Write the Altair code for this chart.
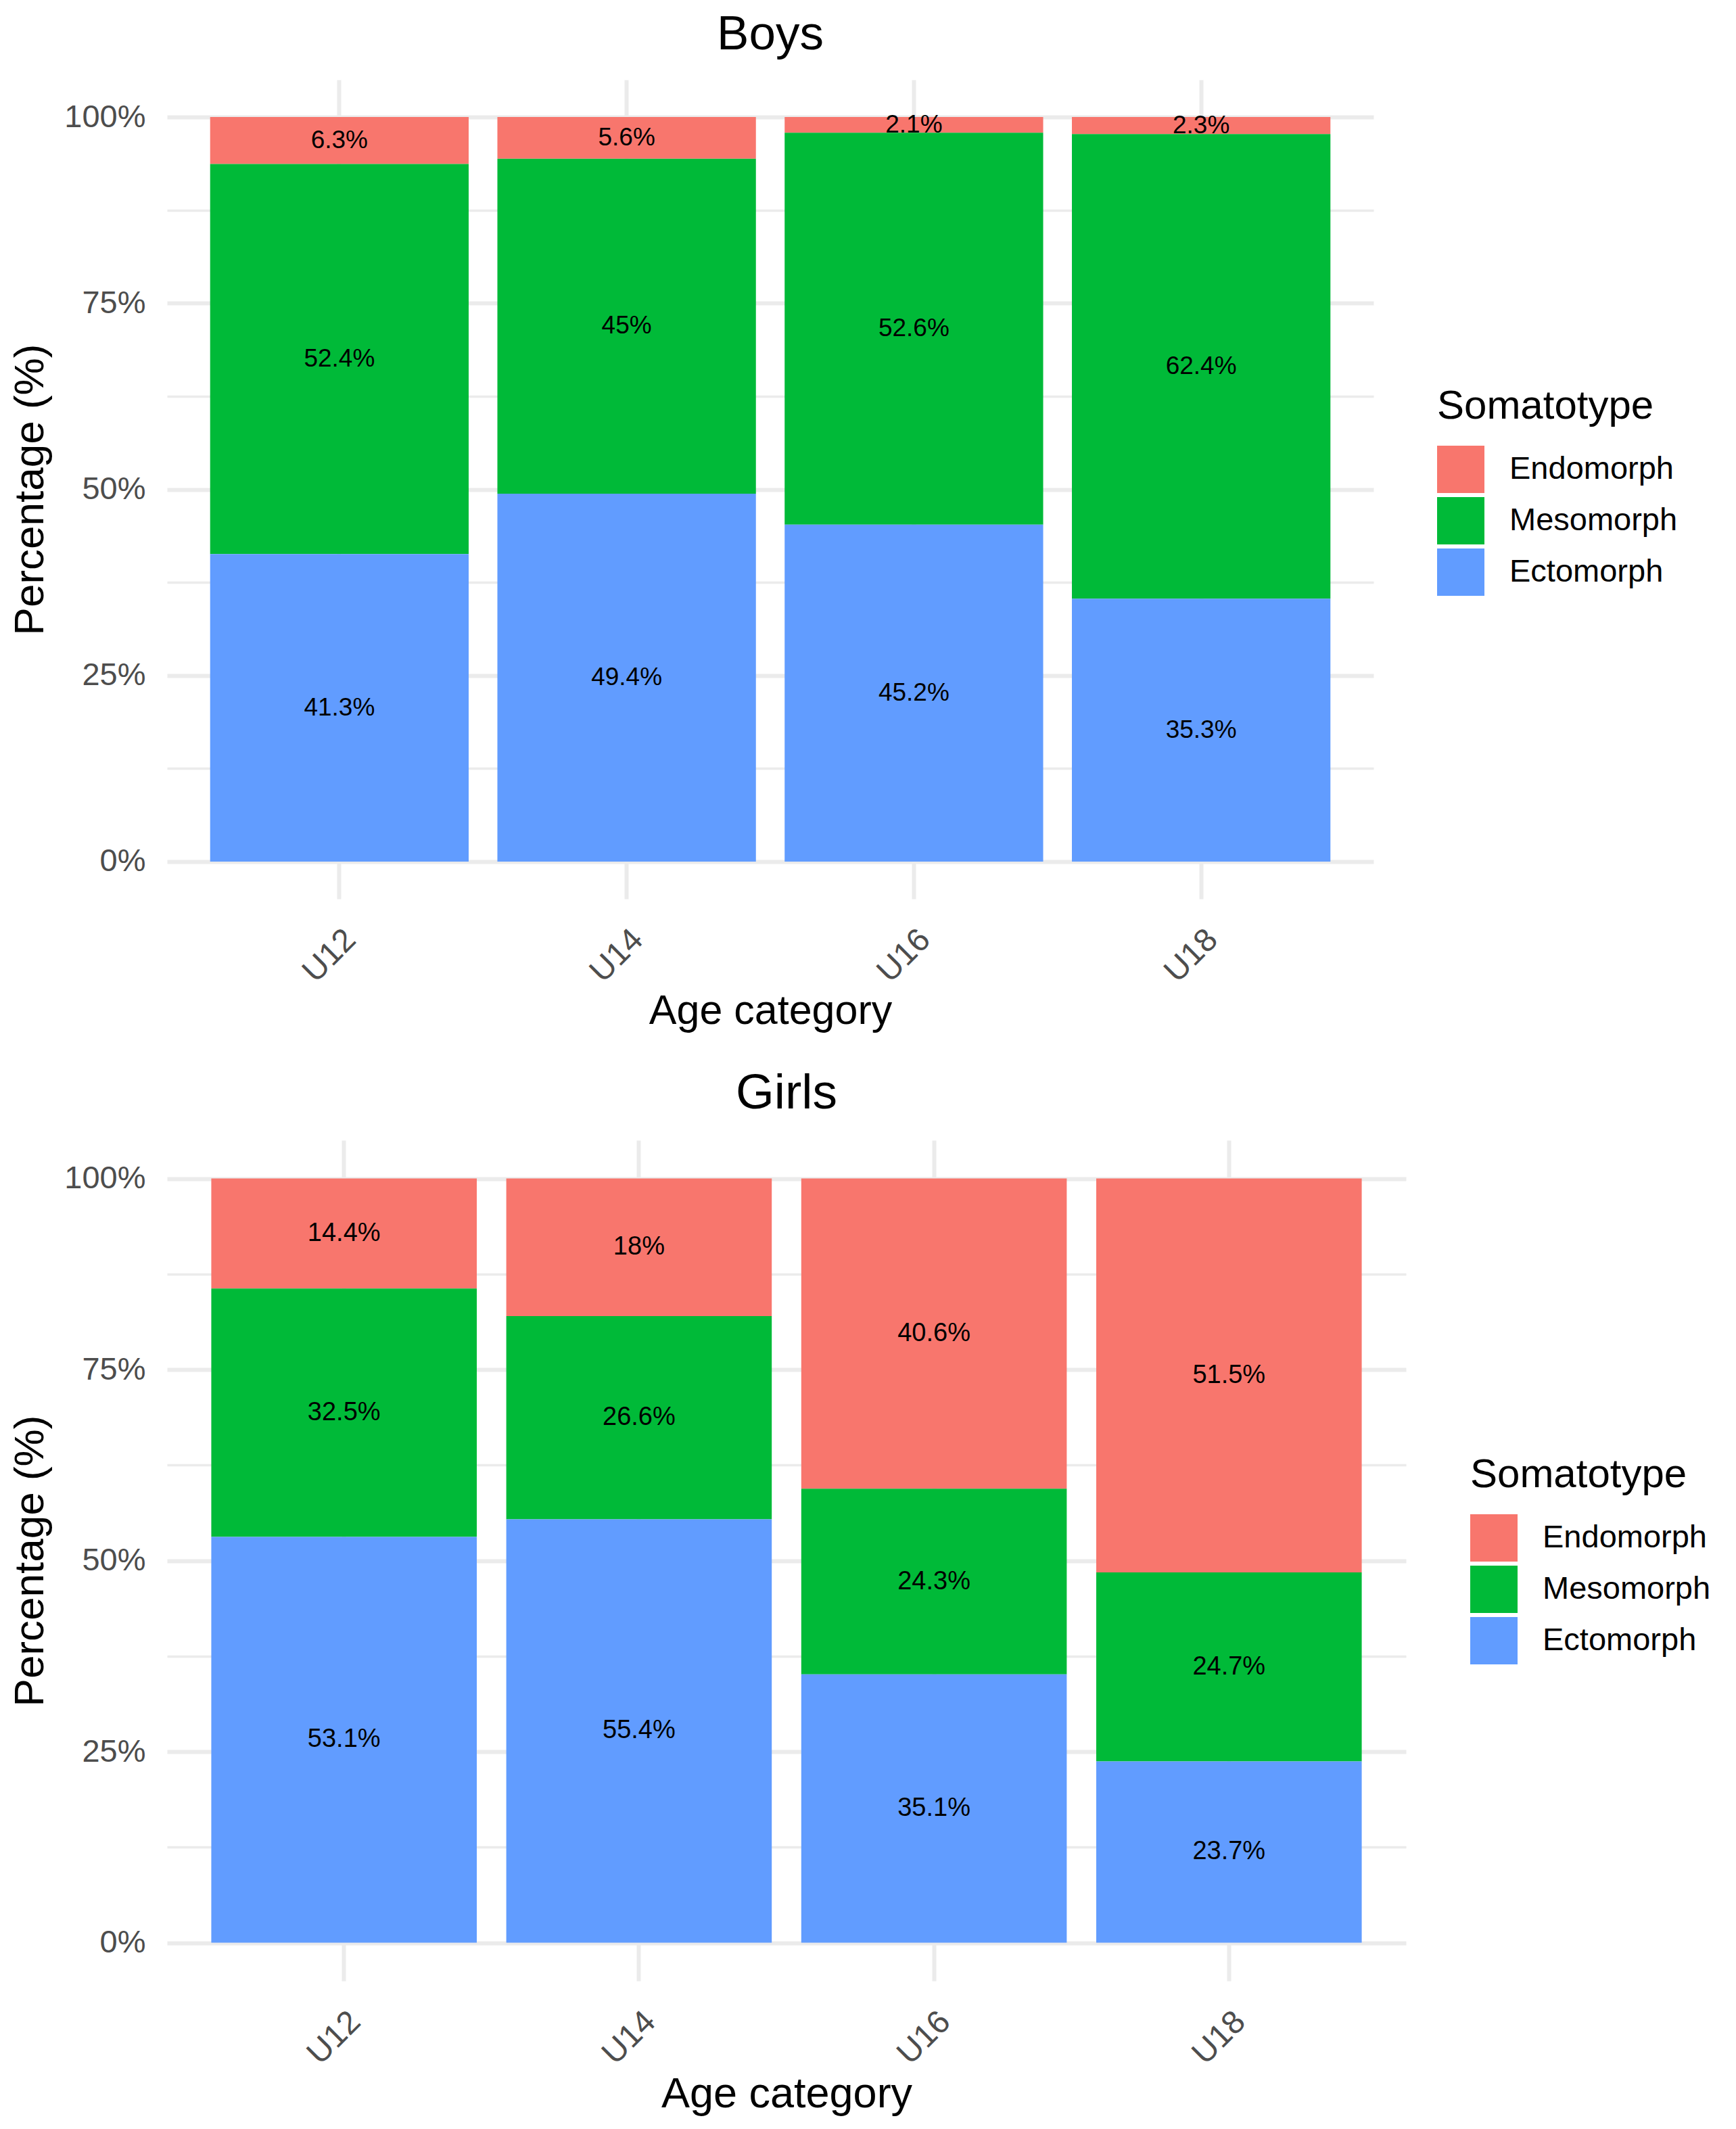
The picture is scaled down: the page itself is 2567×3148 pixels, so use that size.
import altair as alt
import pandas as pd

ages = ["U12", "U14", "U16", "U18"]
somatotypes = ["Endomorph", "Mesomorph", "Ectomorph"]
colors = ["#F8766D", "#00BA38", "#619CFF"]
stack_rank = {"Ectomorph": 0, "Mesomorph": 1, "Endomorph": 2}

boys_endo = [6.3, 5.6, 2.1, 2.3]
boys_meso = [52.4, 45, 52.6, 62.4]
boys_ecto = [41.3, 49.4, 45.2, 35.3]

girls_endo = [14.4, 18, 40.6, 51.5]
girls_meso = [32.5, 26.6, 24.3, 24.7]
girls_ecto = [53.1, 55.4, 35.1, 23.7]

grid_values = [0, 0.125, 0.25, 0.375, 0.5, 0.625, 0.75, 0.875, 1.0]
FONT = "Liberation Sans"


def frame(endo, meso, ecto):
    rows = []
    for i, a in enumerate(ages):
        for s, v in zip(somatotypes, (endo[i], meso[i], ecto[i])):
            rows.append({"age": a, "type": s, "value": v,
                         "rank": stack_rank[s], "label": f"{v:g}%"})
    return pd.DataFrame(rows)


MAJOR = "abs(datum.value*4 - round(datum.value*4)) < 0.001"


def panel(df, title, w, h, lx, ly, title_size, axis_title_size, bar_text_size):
    base = alt.Chart(df).transform_stack(
        stack="value", groupby=["age"], as_=["v0", "v1"], offset="normalize",
        sort=[alt.SortField("rank", order="ascending")],
    ).transform_calculate(mid="(datum.v0 + datum.v1) / 2")

    x_axis = alt.Axis(
        labelAngle=-45, labelAlign="right", labelBaseline="top",
        labelPadding=36, ticks=False, domain=False, bandPosition=0.5,
        grid=True, gridColor="#EBEBEB", gridWidth=6,
        labelFont=FONT, labelFontSize=48, labelColor="#4D4D4D",
        titleFont=FONT, titleFontSize=axis_title_size, titleFontWeight="normal",
        titleColor="black", titlePadding=4,
    )
    y_axis = alt.Axis(
        values=grid_values, ticks=False, domain=False,
        labelExpr=f"{MAJOR} ? format(datum.value, '.0%') : ''",
        grid=True, gridColor="#EBEBEB",
        gridWidth={"condition": {"test": MAJOR, "value": 6}, "value": 3.3},
        labelFont=FONT, labelFontSize=47, labelColor="#4D4D4D", labelPadding=32,
        titleFont=FONT, titleFontSize=62, titleFontWeight="normal",
        titleColor="black", titlePadding=18,
    )
    x_scale = alt.Scale(paddingInner=0.1, paddingOuter=0.15)
    y_scale = alt.Scale(domain=[-0.05, 1.05], nice=False, zero=False)

    bars = base.mark_bar().encode(
        x=alt.X("age:N", sort=ages, scale=x_scale, axis=x_axis, title="Age category"),
        y=alt.Y("v0:Q", scale=y_scale, axis=y_axis, title="Percentage (%)"),
        y2="v1:Q",
        color=alt.Color(
            "type:N", title="Somatotype",
            scale=alt.Scale(domain=somatotypes, range=colors),
            legend=alt.Legend(
                orient="none", legendX=lx, legendY=ly, padding=0,
                symbolType="square", symbolSize=4900, symbolStrokeWidth=0,
                symbolOpacity=1, titleFont=FONT, titleFontSize=60,
                titleFontWeight="normal", titleColor="black", titlePadding=27,
                titleLimit=2000, labelLimit=2000,
                labelFont=FONT, labelFontSize=47, labelColor="black",
                labelOffset=37, rowPadding=6,
            ),
        ),
    )
    text = base.mark_text(font=FONT, fontSize=bar_text_size, color="black",
                          align="center", baseline="middle").encode(
        x=alt.X("age:N", sort=ages, scale=x_scale, axis=x_axis, title="Age category"),
        y=alt.Y("mid:Q", scale=y_scale, axis=y_axis, title="Percentage (%)"),
        text="label:N",
    )
    return alt.layer(bars, text).properties(
        width=w, height=h,
        title=alt.Title(title, font=FONT, fontSize=title_size, fontWeight="normal",
                        color="black", anchor="middle", frame="group",
                        offset=-26, baseline="alphabetic"),
    )


boys = panel(frame(boys_endo, boys_meso, boys_ecto), "Boys",
             1784, 1211, 1878, 454, 71, 61, 37)
girls = panel(frame(girls_endo, girls_meso, girls_ecto), "Girls",
              1832, 1243, 1927, 466, 73, 63, 38)

chart = alt.vconcat(boys, girls, spacing=55).resolve_scale(
    color="independent", x="independent", y="independent"
).resolve_legend(color="independent").configure_view(stroke=None).properties(
    padding={"left": 5, "top": 8, "right": 5, "bottom": 5}
)

chart.save("out.html", embed_options={"renderer": "svg", "actions": False})
